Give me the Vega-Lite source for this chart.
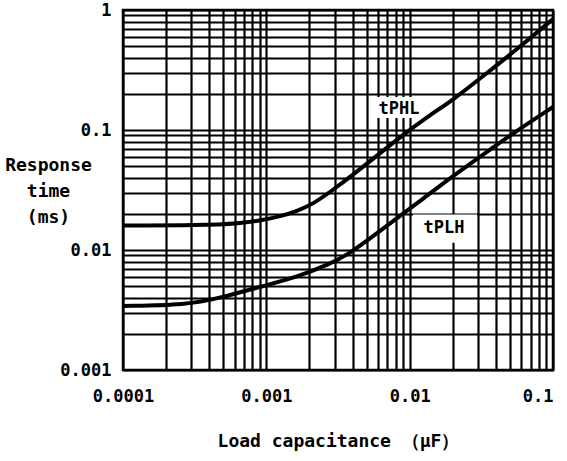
{
  "$schema": "https://vega.github.io/schema/vega-lite/v6.json",
  "width": 430,
  "height": 360,
  "autosize": {"type": "none"},
  "padding": {"left": 123, "top": 10, "right": 14, "bottom": 91},
  "background": "white",
  "config": {
    "view": {"stroke": "black", "strokeWidth": 2.5},
    "font": "DejaVu Sans Mono",
    "axis": {
      "gridColor": "black",
      "gridOpacity": 1,
      "gridWidth": 2.2,
      "ticks": false,
      "domain": false,
      "labelFont": "DejaVu Sans Mono",
      "labelFontWeight": "bold",
      "labelFontSize": 17,
      "labelColor": "black",
      "labelFlush": false,
      "labelOverlap": false,
      "titleFont": "DejaVu Sans Mono",
      "titleFontWeight": "bold",
      "titleFontSize": 18,
      "titleColor": "black"
    }
  },
  "datasets": {
    "curves": [
      {"series": "tPHL", "c": 0.0001, "t": 0.0160},
      {"series": "tPHL", "c": 0.0003444, "t": 0.01606},
      {"series": "tPHL", "c": 0.0006551, "t": 0.01663},
      {"series": "tPHL", "c": 0.000948, "t": 0.01778},
      {"series": "tPHL", "c": 0.001246, "t": 0.01902},
      {"series": "tPHL", "c": 0.001637, "t": 0.02113},
      {"series": "tPHL", "c": 0.002117, "t": 0.02416},
      {"series": "tPHL", "c": 0.002919, "t": 0.03162},
      {"series": "tPHL", "c": 0.005016, "t": 0.05208},
      {"series": "tPHL", "c": 0.008561, "t": 0.0874},
      {"series": "tPHL", "c": 0.01387, "t": 0.1334},
      {"series": "tPHL", "c": 0.02005, "t": 0.1778},
      {"series": "tPHL", "c": 0.03447, "t": 0.2969},
      {"series": "tPHL", "c": 0.05888, "t": 0.4945},
      {"series": "tPHL", "c": 0.1, "t": 0.841},
      {"series": "tPLH", "c": 0.0001, "t": 0.003415},
      {"series": "tPLH", "c": 0.0002783, "t": 0.00348},
      {"series": "tPLH", "c": 0.000475, "t": 0.003981},
      {"series": "tPLH", "c": 0.000948, "t": 0.005012},
      {"series": "tPLH", "c": 0.001637, "t": 0.005957},
      {"series": "tPLH", "c": 0.002781, "t": 0.007643},
      {"series": "tPLH", "c": 0.003654, "t": 0.009085},
      {"series": "tPLH", "c": 0.005016, "t": 0.01189},
      {"series": "tPLH", "c": 0.008561, "t": 0.0192},
      {"series": "tPLH", "c": 0.01181, "t": 0.02561},
      {"series": "tPLH", "c": 0.02005, "t": 0.04136},
      {"series": "tPLH", "c": 0.03447, "t": 0.06556},
      {"series": "tPLH", "c": 0.05888, "t": 0.1029},
      {"series": "tPLH", "c": 0.1, "t": 0.1554}
    ],
    "boxes": [
      {"c": 0.00528, "c2": 0.01219, "t": 0.188, "t2": 0.126},
      {"c": 0.01054, "c2": 0.0295, "t": 0.0198, "t2": 0.0115}
    ],
    "labels": [
      {"name": "tPHL", "c": 0.00843, "t": 0.1496},
      {"name": "tPLH", "c": 0.01737, "t": 0.01525}
    ]
  },
  "encoding": {
    "x": {
      "field": "c", "type": "quantitative",
      "scale": {"type": "log", "domain": [0.0001, 0.1], "nice": false},
      "axis": {
        "title": "Load capacitance （μF）",
        "values": [0.0001,0.0002,0.0003,0.0004,0.0005,0.0006,0.0007,0.0008,0.0009,0.001,0.002,0.003,0.004,0.005,0.006,0.007,0.008,0.009,0.01,0.02,0.03,0.04,0.05,0.06,0.07,0.08,0.09,0.1],
        "format": ".4~f",
        "labelExpr": "indexof(['0.0001','0.001','0.01','0.1'], datum.label) >= 0 ? datum.label : ''",
        "labelAlign": {"condition": {"test": "datum.value > 0.095", "value": "right"}, "value": "center"},
        "labelPadding": 18,
        "titlePadding": 28
      }
    },
    "y": {
      "field": "t", "type": "quantitative",
      "scale": {"type": "log", "domain": [0.001, 1], "nice": false},
      "axis": {
        "title": ["Response", "time", "(ms)"],
        "values": [0.001,0.002,0.003,0.004,0.005,0.006,0.007,0.008,0.009,0.01,0.02,0.03,0.04,0.05,0.06,0.07,0.08,0.09,0.1,0.2,0.3,0.4,0.5,0.6,0.7,0.8,0.9,1],
        "format": ".3~f",
        "labelExpr": "indexof(['0.001','0.01','0.1','1'], datum.label) >= 0 ? datum.label : ''",
        "labelPadding": 12,
        "labelDy": 3,
        "titleAngle": 0,
        "titleAlign": "center",
        "titleBaseline": "alphabetic",
        "titleLineHeight": 26,
        "titleX": -75,
        "titleY": 160
      }
    }
  },
  "layer": [
    {
      "data": {"name": "boxes"},
      "mark": {"type": "rect", "fill": "white", "stroke": null},
      "encoding": {
        "x2": {"field": "c2"},
        "y2": {"field": "t2"}
      }
    },
    {
      "data": {"name": "curves"},
      "mark": {"type": "line", "color": "black", "strokeWidth": 4, "interpolate": "basis"},
      "encoding": {
        "detail": {"field": "series"}
      }
    },
    {
      "data": {"name": "labels"},
      "mark": {"type": "text", "color": "black", "font": "DejaVu Sans Mono", "fontWeight": "bold", "fontSize": 17, "align": "center", "baseline": "middle"},
      "encoding": {
        "text": {"field": "name"}
      }
    }
  ]
}
